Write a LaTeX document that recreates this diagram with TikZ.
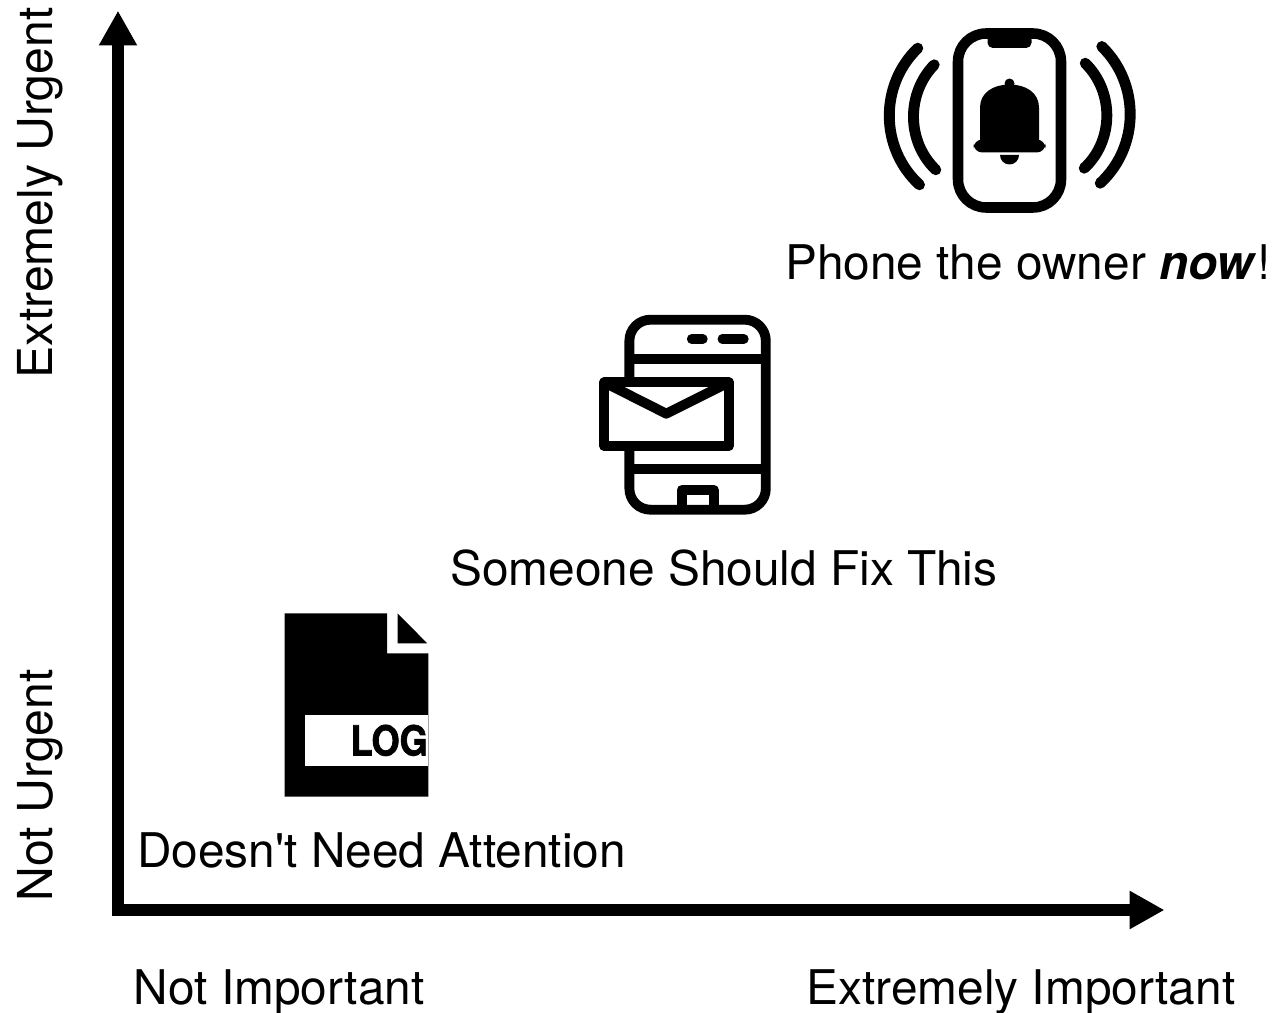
\documentclass[tikz,border=0pt]{standalone}
\usepackage{fontspec}
\setmainfont{TeX Gyre Heros}[Ligatures=TeXOff]
\newfontfamily\logfont[FakeBold=1.6,FakeStretch=.87]{TeX Gyre Heros Bold}
\usetikzlibrary{arrows.meta}
\tikzset{
  >={Triangle[length=19.8pt,width=20.4pt]},
  axis/.style={->,black,line width=6.6pt},
  tag/.style={anchor=base west,inner sep=0pt,font=\fontsize{27.2}{32}\selectfont},
  ytag/.style={tag,rotate=90,font=\fontsize{27.4}{32}\selectfont},
  wave/.style={line width=6.2pt,line cap=round},
  % pictograms
  pics/bellphone/.style={code={
    \draw[line width=6pt,rounded corners=16] (-51.5,-87) rectangle (51.5,87);
    \fill[rounded corners=3] (-22,-86) -- (22,-86) -- (22,-72.5) -- (-22,-72.5) -- cycle;
    \fill (0,-37) circle (5);
    \fill (-29.5,21) -- (-29.5,-13) .. controls (-29.5,-28) and (-16,-36) .. (0,-36)
      .. controls (16,-36) and (29.5,-28) .. (29.5,-13) -- (29.5,21) -- cycle;
    \fill[rounded corners=5] (-36,19) rectangle (36,32);
    \fill (-9.5,34.5) arc (180:0:9.5) -- cycle;
    \draw[wave] (-91.7,-72.3) .. controls (-130,-35.7) and (-130,27.7) .. (-90,64.3);
    \draw[wave] (-75.3,-55.7) .. controls (-103.2,-27) and (-103.2,21) .. (-73.7,49.3);
    \draw[wave] (92.3,-74) .. controls (130.4,-37) and (130.4,26) .. (90.7,62.7);
    \draw[wave] (75.7,-57.3) .. controls (104.7,-29) and (104.7,20) .. (74.7,47.7);
  }},
  pics/mailphone/.style={code={
    \draw[line width=5.6pt,rounded corners=12] (-68.2,-95) rectangle (68.2,95);
    \draw[line width=5.6pt] (-68.2,-55.3) -- (68.2,-55.3) (-68.2,54.3) -- (68.2,54.3);
    \draw[wave,line width=5.4pt] (-6,-75.7) -- (5.3,-75.7) (24.7,-75.7) -- (46.3,-75.7);
    \draw[line width=5.6pt,line join=round] (-16,95) -- (-16,75.3) -- (16.3,75.3) -- (16.3,95);
    \draw[line width=5.6pt,line join=round,fill=white] (-93.3,-32.3) rectangle (31.3,31.3);
    \draw[line width=5.6pt,line join=round] (-93.3,-32.3) -- (-31.3,-1) -- (31.3,-32.3);
  }},
  pics/logfile/.style={code={
    \fill (-71.8,-91.7) -- (-71.8,91.7) -- (71.8,91.7) -- (71.8,-51.7) -- (30.7,-51.7) -- (30.7,-91.7) -- cycle;
    \fill (41,-91.7) -- (41,-61.7) -- (70.7,-61.7) -- cycle;
    \fill[white] (-51.5,10.3) rectangle (71.8,61);
    \node[inner sep=0pt,anchor=base east,font=\fontsize{23.6}{28}\logfont] (logword) at (71.5,50.5) {LOG};
  }},
}
\begin{document}
\begin{tikzpicture}[x=0.02cm,y=-0.02cm]
  \useasboundingbox (0,0) rectangle (1274,1013);
  \coordinate (origin) at (118,916);
  \coordinate (xstart) at (112,910);
  \coordinate (xend) at (1164.5,910);
  \coordinate (yend) at (118,10.7);
  \draw[axis] (xstart) -- (xend);
  \draw[axis] (origin) -- (yend);
  \pic (urgent) at (1009.5,120.5) {bellphone};
  \pic (medium) at (697.6,414.7) {mailphone};
  \pic (minor) at (356.5,705) {logfile};
  \node[tag] (phonetag) at (785,280) {Phone the owner \textbf{\textit{now}}!};
  \node[tag] (fixtag) at (450,585.5) {Someone Should Fix This};
  \node[tag] (logtag) at (137,867.5) {Doesn't Need Attention};
  \node[tag] (notimp) at (133.5,1004.5) {Not Important};
  \node[tag] (veryimp) at (806.5,1004.5) {Extremely Important};
  \node[ytag] (noturg) at (52.5,901.5) {Not Urgent};
  \node[ytag] (veryurg) at (52.5,378.5) {Extremely Urgent};
\end{tikzpicture}
\end{document}
